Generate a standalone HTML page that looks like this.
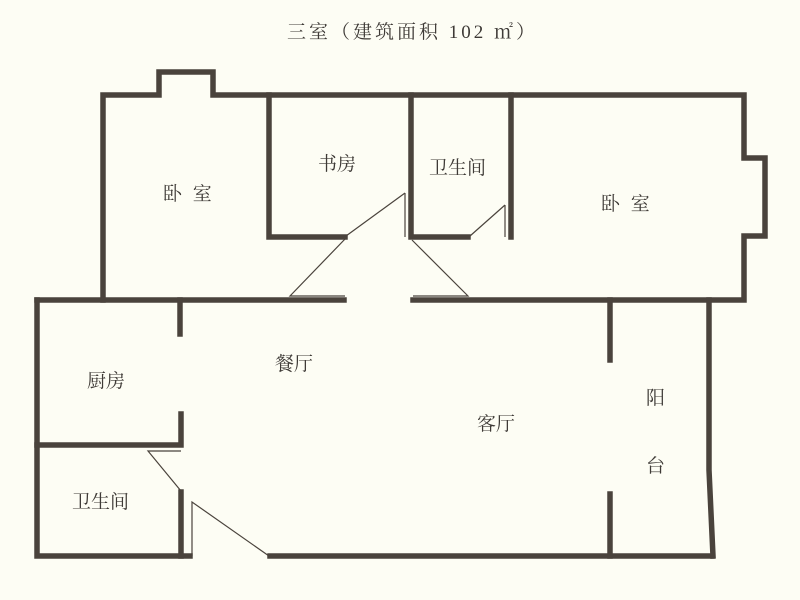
<!DOCTYPE html>
<html><head><meta charset="utf-8"><style>
html,body{margin:0;padding:0;background:#fdfdf4;}
svg{display:block}
text{font-family:"Liberation Serif","Noto Serif CJK SC",serif;fill:#3e3a36;font-size:19px}
</style></head><body>
<svg width="800" height="600" viewBox="0 0 800 600">
<rect width="800" height="600" fill="#fdfdf4"/>
<g stroke="#4a433c" stroke-width="5.5" fill="none" stroke-linecap="square">
<polyline points="103,300 103,95 159,95 159,72 213,72 213,95 744,95 744,158 765,158 765,236 744,236 744,300 413,300"/>
<line x1="37" y1="300" x2="344" y2="300"/>
<polyline points="269,95 269,237 345,237"/>
<polyline points="411,95 411,237 468,237"/>
<line x1="511" y1="95" x2="511" y2="237"/>
<polyline points="37,300 37,556 190,556"/>
<line x1="180" y1="300" x2="180" y2="334"/>
<polyline points="37,445 181,445 181,414"/>
<line x1="181" y1="492" x2="181" y2="556"/>
<line x1="270" y1="556" x2="712" y2="556"/>
<line x1="610" y1="300" x2="610" y2="360"/>
<line x1="610" y1="494" x2="610" y2="556"/>
<polyline points="709,300 709,470 713,556"/>
</g>
<g stroke="#4a433c" stroke-width="1.2" fill="none">
<line x1="405" y1="193" x2="405" y2="237"/>
<line x1="405" y1="193" x2="346" y2="236"/>
<polyline points="346,238 290,296 345,296"/>
<polyline points="412,240 468,296 413,296"/>
<line x1="505" y1="205" x2="505" y2="237"/>
<line x1="505" y1="205" x2="470" y2="236"/>
<polyline points="181,451 148,451 181,491"/>
<polyline points="192,556 192,502 269,556"/>
</g>
<text x="287" y="38" font-size="18" letter-spacing="3">三室（建筑面积 102 ㎡）</text>
<text x="163" y="200" letter-spacing="3">卧 室</text>
<text x="318" y="170">书房</text>
<text x="429" y="174">卫生间</text>
<text x="601" y="210" letter-spacing="3">卧 室</text>
<text x="87" y="387">厨房</text>
<text x="275" y="370">餐厅</text>
<text x="477" y="430">客厅</text>
<text x="646" y="404">阳</text>
<text x="646" y="472">台</text>
<text x="72" y="508">卫生间</text>
</svg>
</body></html>
